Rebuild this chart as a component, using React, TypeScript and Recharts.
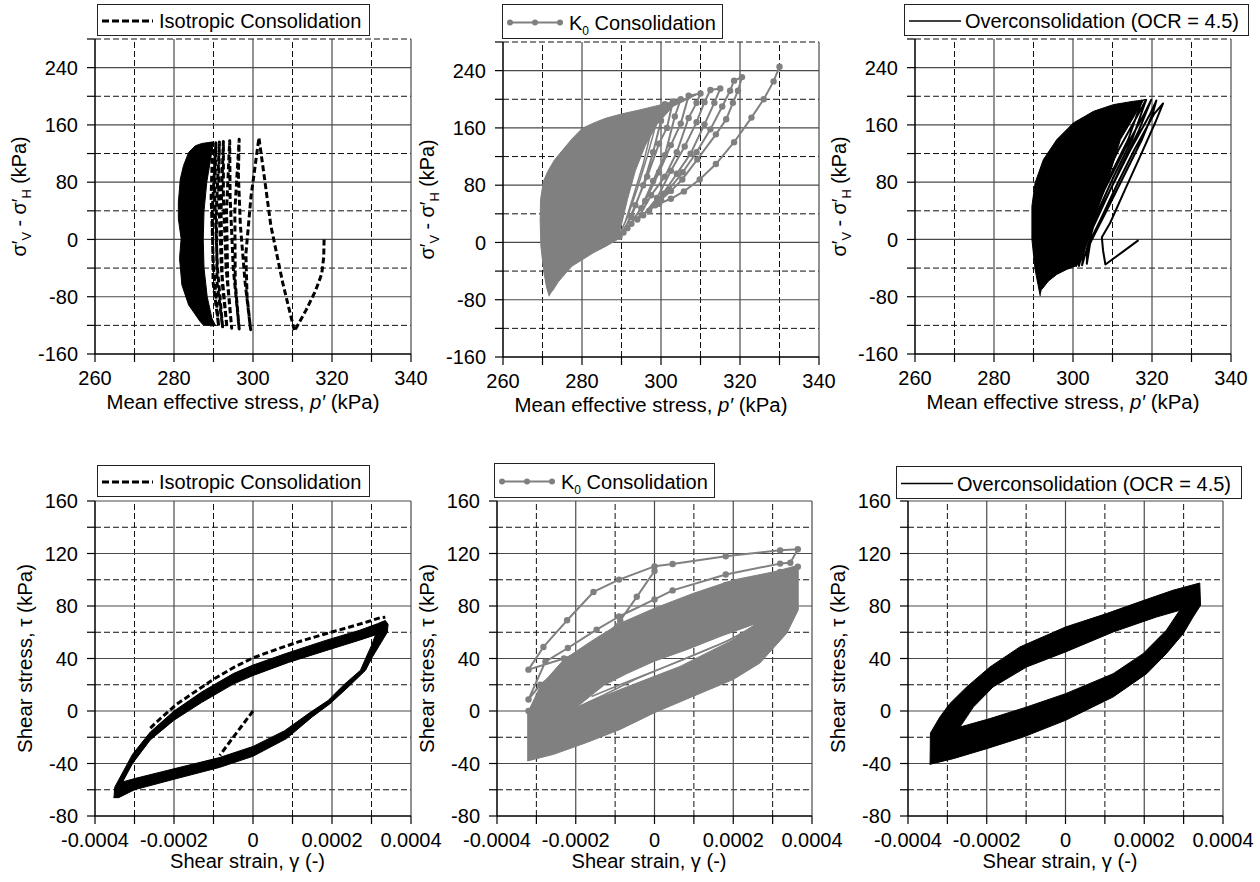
import React from 'react';
import { ScatterChart, Scatter, XAxis, YAxis, ReferenceLine, Legend } from 'recharts';

const FONT = "'Liberation Sans', Arial, Helvetica, sans-serif";
const BLACK = '#000000';
const GRAY = '#808080';

type Pt = [number, number];

// ---------- ticks & gridlines ----------
const pTicks = [260, 270, 280, 290, 300, 310, 320, 330, 340];
const qTicks = [-160, -120, -80, -40, 0, 40, 80, 120, 160, 200, 240, 280];
const strainTicksE4 = [-4, -3, -2, -1, 0, 1, 2, 3, 4];
const tauTicks = [-80, -60, -40, -20, 0, 20, 40, 60, 80, 100, 120, 140, 160];

const pGridSolid = [280, 300, 320, 340];
const pGridDashed = [270, 290, 310, 330];
const qGridSolid = [-80, 0, 80, 160, 240];
const qGridDashed = [-120, -40, 40, 120, 200, 280];
const strainGridSolidE4 = [-2, 0, 2, 4];
const strainGridDashedE4 = [-3, -1, 1, 3];
const tauGridSolid = [-40, 0, 40, 80, 120, 160];
const tauGridDashed = [-60, -20, 20, 60, 100, 140];

// ---------- legend labels ----------
const legendIso = 'Isotropic Consolidation';
const legendK0 = ' Consolidation';
const legendOcr = 'Overconsolidation (OCR = 4.5)';

// ---------- Panel 1: isotropic, p' - q  (p', q) ----------
const isoPQCore: Pt[] = [
  [287.5, -120], [286.6, -114.5], [283.7, -91.4], [282.0, -63.6], [281.4, -26.6], [281.8, 1.2],
  [281.1, 29], [281.1, 52], [281.6, 84.5], [282.4, 103], [283.7, 121.6], [285.4, 130.8],
  [287.0, 134], [290.0, 136.4], [289.5, 120], [288.3, 80], [287.6, 40], [287.4, 0],
  [287.6, -40], [288.4, -80], [289.6, -110], [290.5, -120], [289.2, -121],
];
const isoPQPath: Pt[] = [
  [318.0, 0], [317.9, -25], [317.4, -48], [315.8, -72], [313.5, -98], [310.5, -128],
  [307.5, -60], [304.5, 20], [302.8, 90], [301.5, 142],
  [299.5, 60], [298.2, -20], [298.5, -80], [299.4, -126],
  [298.0, -60], [296.8, 20], [296.3, 90], [296.5, 140],
  [295.4, 40], [295.5, -60], [296.5, -125],
  [295.0, -40], [294.2, 60], [294.1, 138],
  [293.3, 40], [293.6, -60], [294.6, -124],
  [293.2, -40], [292.5, 60], [292.5, 137],
  [291.9, 40], [292.2, -60], [293.4, -123],
  [292.0, -40], [291.3, 60], [291.5, 136],
  [290.7, 40], [290.9, -60], [292.3, -122],
  [291.0, -40], [290.3, 60], [290.6, 135],
  [289.7, 40], [289.9, -60], [291.3, -121],
  [290.0, -40], [289.4, 60], [289.8, 134.5],
];

// ---------- Panel 2: K0, p' - q ----------
const k0PQCore: Pt[] = [
  [271.7, -75.3], [271.0, -62], [270.3, -40], [269.6, -5.5], [269.4, 30], [269.5, 59.6],
  [270.2, 85], [271.3, 99], [273.0, 115], [275.1, 129], [277.5, 145], [280.1, 159.6],
  [283.0, 167], [286.0, 173.5], [290.0, 179.5], [294.5, 185], [299.0, 191], [303.0, 196.8],
  [306.0, 201], [308.9, 206], [303.0, 190], [299.0, 165], [296.0, 135], [293.5, 100],
  [291.5, 60], [290.0, 25], [289.0, 4], [286.0, -5.5], [283.0, -14], [280.1, -24],
  [277.5, -33], [275.9, -42.7], [274.0, -55], [272.5, -68],
];
// zig-zag of successive cycles: down one curve, up the next
const k0PQLoops: Pt[] = [
  // C1 (top -> bottom)
  [330, 245.5], [328.5, 225], [326, 200], [322.9, 174.4], [318.5, 140], [313.9, 109.5],
  [309.8, 88], [305.8, 71.3], [302.5, 61], [299.5, 54],
  // C2 (bottom -> top)
  [300, 60], [302.5, 72], [305.4, 88], [309.2, 116], [313.9, 151], [316.5, 172], [318.2, 195],
  [319.5, 212], [320.5, 231],
  // C3 (top -> bottom)
  [318.5, 226], [317.5, 212], [315.5, 190], [312.5, 158], [309, 126], [305.5, 98], [302, 74], [298.5, 52],
  // C4
  [297, 44], [300.5, 68], [304, 96], [307.5, 124], [311, 165], [313.5, 195], [315, 215],
  // C5
  [312.5, 213], [311, 196], [309, 168], [306, 134], [302.5, 100], [299, 62], [295.5, 38],
  // C6
  [294, 32], [297.5, 66], [301, 92], [304, 126], [307, 174], [309, 195], [310, 208],
  // C7
  [307, 205], [305, 166], [302.5, 136], [299.5, 98], [296, 58], [292.5, 26],
  // C8
  [291.5, 20], [295, 48], [298, 86], [301, 122], [303.5, 176], [305, 200],
  // C9
  [303, 197], [301.5, 160], [299.5, 138], [296.5, 92], [293.5, 52], [290.5, 14],
  // C10
  [289.5, 8], [292.5, 36], [295.5, 80], [298, 126], [300, 170], [301, 193],
];
const k0PQHatch: Pt[] = [
  [300, 190], [298.5, 160], [296.5, 120], [294, 75], [291.5, 35], [289, 5],
  [291, 30], [293, 65], [295.5, 110], [297.5, 155], [299, 189],
];

// ---------- Panel 3: OCR 4.5, p' - q ----------
const ocrPQCore: Pt[] = [
  [291.7, -79], [290.4, -42], [289.6, 0], [289.6, 46.5], [290.4, 79], [292.5, 111.6],
  [295.9, 139.5], [300.1, 162.8], [305.2, 179], [310.3, 188.4], [315.3, 193], [318.7, 195.3],
  [317.9, 195], [314.5, 162.8], [312.0, 139.5], [309.4, 93], [306.5, 46.5], [303.9, 0],
  [302.2, -27.9], [301.0, -36.3], [298.4, -41.9], [295.9, -48.8], [293.8, -58], [292.1, -69.8],
];
const ocrPQLoops: Pt[] = [
  [316.6, -1], [312.4, -18], [308.2, -35],
  [307.6, -15], [307.3, 3], [309.4, 23], [313.2, 70], [317, 116], [320.8, 163], [322.8, 190],
  [320.5, 175], [315.5, 125], [311, 75], [307, 28], [304.5, 0], [303.5, -34],
  [303.6, -15], [304.8, 0], [308.5, 40], [313, 90], [317.5, 140], [320.3, 178], [321.1, 194],
  [319.5, 175], [314.5, 125], [309.5, 70], [305.5, 25], [302.3, -36],
  [302.8, -10], [307, 40], [312, 100], [316.5, 150], [319.8, 195],
  [318, 175], [313, 125], [308, 70], [304, 20], [301.5, -37],
  [302, -15], [305.5, 30], [310.5, 90], [315, 140], [318.5, 195],
  [316.5, 175], [311.5, 125], [306.5, 70], [302.5, 15], [300.8, -37],
  [301.5, -10], [304.5, 30], [309.5, 90], [314, 140], [317.5, 195],
];

// ---------- Panel 4: isotropic, shear (strain x1e-4, tau) ----------
const isoShearOuter: Pt[] = [
  [-3.52, -66], [-3.5, -58], [-3.05, -33], [-2.6, -16], [-2.0, 0], [-1.3, 14.5], [-0.5, 28.5],
  [0, 35], [0.85, 44], [1.86, 54], [2.7, 61.5], [3.15, 66.5], [3.35, 69], [3.42, 66],
  [3.4, 60], [3.2, 50], [3.0, 40], [2.85, 31], [2.4, 18], [1.95, 5.5], [1.5, -4.5],
  [0.85, -21], [0, -34.5], [-0.85, -43], [-2.0, -52], [-3.0, -60], [-3.4, -66],
];
const isoShearInner: Pt[] = [
  [-3.3, -54], [-3.0, -51.5], [-2.0, -44], [-0.85, -35.5], [0, -27], [0.8, -15], [1.45, -1],
  [1.9, 8], [2.3, 20], [2.72, 31], [2.85, 40], [3.0, 50], [3.1, 58],
  [2.7, 54], [1.9, 46.5], [0.9, 37], [0, 27], [-0.5, 20.5], [-1.3, 6.5], [-2.0, -7],
  [-2.6, -22], [-3.05, -40],
];
const isoShearFirstLoad: Pt[] = [
  [-2.6, -13], [-2.3, -4.5], [-1.94, 5], [-1.5, 14], [-1.01, 24], [-0.5, 33], [0, 40.5],
  [0.6, 47], [1.18, 53], [1.8, 58.5], [2.45, 64], [2.9, 68], [3.21, 71], [3.35, 71.5],
];
const isoShearStart: Pt[] = [[0, 0], [-0.3, -12], [-0.6, -24], [-0.84, -33.8]];

// ---------- Panel 5: K0, shear ----------
const k0ShearOuter: Pt[] = [
  [-3.22, -38], [-3.22, -1.3], [-2.9, 18.9], [-2.31, 39], [-1.55, 54.3], [-0.87, 66.9],
  [0, 78.3], [0.99, 89.7], [2.0, 99.8], [3.02, 106], [3.65, 111], [3.65, 77], [3.36, 59.3],
  [2.68, 36.6], [2.0, 24], [0.99, 11.3], [0, -1.3], [-0.87, -14], [-1.72, -24], [-2.56, -33],
];
const k0ShearInner: Pt[] = [
  [-2.1, 0], [-1.72, 6.2], [-0.87, 16.4], [0, 26.5], [0.65, 34], [1.33, 44.2], [2.0, 54.3],
  [2.6, 66.9], [1.67, 56.8], [0.82, 46.7], [0, 38], [-0.7, 28.5], [-1.29, 19.5],
];
const k0ShearHoleA: Pt[] = [[-2.1, 1], [-1.3, 12], [-0.5, 24], [0.3, 34], [1.1, 44], [1.9, 54], [2.6, 66]];
const k0ShearHoleB: Pt[] = [[-1.6, 11], [-0.8, 21], [0, 30.5], [0.8, 40], [1.6, 50], [2.3, 60]];
const k0ShearLoops: Pt[] = [
  [0, 106.7], [-0.45, 87], [-0.87, 69], [-1.46, 49], [-2.3, 40], [-3.2, 31.5],
  [-2.82, 48.8], [-2.22, 69.1], [-1.55, 90.7], [-0.9, 100.1], [0, 110.2], [0.46, 112],
  [1.81, 117.9], [3.19, 122.4], [3.64, 123.2],
  [3.45, 113], [3.19, 112.3], [1.81, 104], [0.46, 91.9], [0, 85], [-0.9, 72], [-1.47, 62],
  [-2.2, 48], [-2.77, 37.6], [-3.2, 8.8],
  [-2.9, 20], [-2.4, 32], [-1.8, 44], [-1.0, 58], [0, 73], [1.0, 86], [1.81, 96],
  [3.19, 106], [3.64, 110],
  [3.4, 102], [3.19, 101], [1.81, 91], [0.5, 78], [-0.5, 63], [-1.5, 46], [-2.5, 28], [-3.2, 0],
];

// ---------- Panel 6: OCR 4.5, shear ----------
const ocrShearOuter: Pt[] = [
  [-3.44, -40.6], [-3.43, -16.8], [-3.19, -4.6], [-2.94, 5.6], [-2.51, 18.3], [-1.92, 33.5],
  [-1.16, 48.8], [0, 64], [1.04, 74.2], [1.99, 84.3], [2.73, 92], [3.41, 97.5], [3.43, 80.5],
  [3.24, 71.6], [2.99, 58.9], [2.56, 43.7], [2.06, 28.4], [1.21, 10.7], [0, -7.1],
  [-1.07, -19.8], [-2.0, -28.7], [-2.85, -36.3],
];
const ocrShearInner: Pt[] = [
  [-2.68, -12.2], [-1.92, -5.8], [-0.99, 3], [0, 13.2], [1.21, 28.4], [1.97, 43.7],
  [2.56, 61.5], [2.9, 76.7], [2.31, 71.6], [1.21, 60.2], [0, 45], [-0.99, 33.5],
  [-1.84, 18.3], [-2.34, 3],
];

// ---------- helpers ----------
const toPQ = (a: Pt[]) => a.map(([x, y]) => ({ x, y }));
const toStrain = (a: Pt[]) => a.map(([g, y]) => ({ x: g / 1e4, y }));
const ring = (outer: Pt[], inner: Pt[]): Pt[] => [...outer, outer[0], ...inner, inner[0], outer[0]];

const NoDot = () => <g />;
const GrayDot = (p: any) => <circle cx={p.cx} cy={p.cy} r={3.2} fill={GRAY} />;

const qFmt = (v: number) => (v % 80 === 0 && v !== 280 ? String(v) : '');
const pFmt = (v: number) => (v % 20 === 0 ? String(v) : '');
const tauFmt = (v: number) => (v % 40 === 0 ? String(v) : '');
const strainFmt = (v: number) => {
  const r = Math.round(v * 1e4);
  if (r % 2 !== 0) return '';
  return r === 0 ? '0' : (r / 1e4).toFixed(4);
};
const e4 = (a: number[]) => a.map((v) => v / 1e4);

// ---------- legend ----------
type LegendKind = 'dashed' | 'dots' | 'solid';
function LegendBox({ w, h, kind, children }: { w: number; h: number; kind: LegendKind; children: React.ReactNode }) {
  const my = h / 2;
  let sample: React.ReactNode = null;
  let tx = 60;
  if (kind === 'dashed') {
    sample = <line x1={4} x2={55} y1={my} y2={my} stroke={BLACK} strokeWidth={3} strokeDasharray="7 3" />;
    tx = 61;
  } else if (kind === 'dots') {
    sample = (
      <g>
        <line x1={5} x2={60} y1={my} y2={my} stroke={GRAY} strokeWidth={2} />
        <circle cx={7} cy={my} r={3} fill={GRAY} />
        <circle cx={32} cy={my} r={3} fill={GRAY} />
        <circle cx={57} cy={my} r={3} fill={GRAY} />
      </g>
    );
    tx = 66;
  } else {
    sample = <line x1={4} x2={56} y1={my} y2={my} stroke={BLACK} strokeWidth={1.6} />;
    tx = 60;
  }
  return (
    <div
      style={{
        boxSizing: 'border-box', width: w, height: h, border: '1px solid #222', background: '#fff',
        position: 'relative', fontFamily: FONT, fontSize: 20, color: '#000',
      }}
    >
      <svg style={{ position: 'absolute', left: 0, top: 0 }} width={w} height={h}>{sample}</svg>
      <span style={{ position: 'absolute', left: tx, top: h / 2 - 11, whiteSpace: 'nowrap', lineHeight: '22px' }}>{children}</span>
    </div>
  );
}

// ---------- panel ----------
interface PanelProps {
  left: number; top: number; plotW: number; plotH: number;
  xDomain: [number, number]; xTicks: number[]; xFmt: (v: number) => string;
  yDomain: [number, number]; yTicks: number[]; yFmt: (v: number) => string;
  xSolid: number[]; xDashed: number[]; ySolid: number[]; yDashed: number[];
  legend: React.ReactNode; lx: number; ly: number; lw: number; lh: number;
  xTitle: React.ReactNode; yTitle: React.ReactNode;
  xTitleShift: number; xTitleDy: number; yTitleX: number; xTitleLen: number; yTitleLen: number;
  children: React.ReactNode;
}

const RIGHT = 48;

function Panel(p: PanelProps) {
  const W = 95 + p.plotW + RIGHT;
  const H = 45 + p.plotH + 70;
  const cy = 45 + p.plotH / 2;
  const xTitleFn = () => (
    <text x={95 + p.plotW / 2 + p.xTitleShift} y={45 + p.plotH + p.xTitleDy} textAnchor="middle"
      fontSize={20} fontFamily={FONT} fill="#000" textLength={p.xTitleLen} lengthAdjust="spacingAndGlyphs">{p.xTitle}</text>
  );
  const yTitleFn = () => (
    <text x={p.yTitleX} y={cy} transform={`rotate(-90 ${p.yTitleX} ${cy})`} textAnchor="middle"
      fontSize={20} fontFamily={FONT} fill="#000" textLength={p.yTitleLen} lengthAdjust="spacingAndGlyphs">{p.yTitle}</text>
  );
  return (
    <div style={{ position: 'absolute', left: p.left - 95, top: p.top - 45, width: W, height: H }}>
      <ScatterChart width={W} height={H} margin={{ top: 45, right: RIGHT, bottom: 0, left: 0 }}>
        {p.xDashed.map((v) => (
          <ReferenceLine key={'xd' + v} x={v} stroke="#111" strokeWidth={1} strokeDasharray="6 3" />
        ))}
        {p.yDashed.map((v) => (
          <ReferenceLine key={'yd' + v} y={v} stroke="#111" strokeWidth={1} strokeDasharray="6 3" />
        ))}
        {p.xSolid.map((v) => (
          <ReferenceLine key={'xs' + v} x={v} stroke="#4a4a4a" strokeWidth={1.2} />
        ))}
        {p.ySolid.map((v) => (
          <ReferenceLine key={'ys' + v} y={v} stroke="#4a4a4a" strokeWidth={1.2} />
        ))}
        {p.children}
        <XAxis type="number" dataKey="x" domain={p.xDomain} ticks={p.xTicks} tickFormatter={p.xFmt}
          allowDataOverflow interval={0} height={70} tickSize={8} tickMargin={9} stroke="#000"
          axisLine={{ stroke: '#000', strokeWidth: 1.5 }} tickLine={{ stroke: '#000', strokeWidth: 1.2 }}
          tick={{ fontSize: 20, fill: '#000', fontFamily: FONT }} label={xTitleFn} />
        <YAxis type="number" dataKey="y" domain={p.yDomain} ticks={p.yTicks} tickFormatter={p.yFmt}
          allowDataOverflow interval={0} width={95} tickSize={8} tickMargin={9} stroke="#000"
          axisLine={{ stroke: '#000', strokeWidth: 1.5 }} tickLine={{ stroke: '#000', strokeWidth: 1.2 }}
          tick={{ fontSize: 20, fill: '#000', fontFamily: FONT }} label={yTitleFn} />
        <Legend verticalAlign="middle" align="center" layout="horizontal"
          wrapperStyle={{ left: p.lx, top: p.ly, width: p.lw, height: p.lh }}
          content={() => p.legend} />
      </ScatterChart>
    </div>
  );
}

const qTitle = (
  <>
    <tspan>σ′</tspan><tspan dy={5} fontSize={13}>V</tspan><tspan dy={-5}> - σ′</tspan>
    <tspan dy={5} fontSize={13}>H</tspan><tspan dy={-5}> (kPa)</tspan>
  </>
);
const pTitle = (<><tspan>Mean effective stress, </tspan><tspan fontStyle="italic">p′</tspan><tspan> (kPa)</tspan></>);
const strainTitle = 'Shear strain, γ (-)';
const tauTitle = 'Shear stress, τ (kPa)';

const topCommon = {
  xDomain: [260, 340] as [number, number], xTicks: pTicks, xFmt: pFmt,
  yDomain: [-160, 280] as [number, number], yTicks: qTicks, yFmt: qFmt,
  xSolid: pGridSolid, xDashed: pGridDashed, ySolid: qGridSolid, yDashed: qGridDashed,
  xTitle: pTitle, yTitle: qTitle, xTitleShift: -10, xTitleDy: 55, yTitleX: 26,
  xTitleLen: 273, yTitleLen: 120,
};
const botCommon = {
  xDomain: [-0.0004, 0.0004] as [number, number], xTicks: e4(strainTicksE4), xFmt: strainFmt,
  yDomain: [-80, 160] as [number, number], yTicks: tauTicks, yFmt: tauFmt,
  xSolid: e4(strainGridSolidE4), xDashed: e4(strainGridDashedE4), ySolid: tauGridSolid, yDashed: tauGridDashed,
  xTitle: strainTitle, yTitle: tauTitle, xTitleShift: -5.5, xTitleDy: 52, yTitleX: 32,
  xTitleLen: 155, yTitleLen: 189,
};

const lineNone = (stroke: string, w: number, dash?: string) =>
  dash ? { stroke, strokeWidth: w, strokeDasharray: dash, fill: 'none', strokeLinejoin: 'round' as const }
    : { stroke, strokeWidth: w, fill: 'none', strokeLinejoin: 'round' as const };
const lineFill = (c: string) => ({ stroke: c, strokeWidth: 1, fill: c, strokeLinejoin: 'round' as const });

export default function App() {
  return (
    <div style={{ position: 'absolute', left: 0, top: 0, width: 1260, height: 882, background: '#fff', fontFamily: FONT, overflow: 'hidden' }}>
      {/* Panel 1 */}
      <Panel {...topCommon} left={95} top={39} plotW={316} plotH={315}
        lx={97} ly={10} lw={273} lh={32}
        legend={<LegendBox w={273} h={32} kind="dashed">{legendIso}</LegendBox>}>
        <Scatter data={toPQ(isoPQCore)} line={lineFill(BLACK)} shape={NoDot} isAnimationActive={false} legendType="none" />
        <Scatter data={toPQ(isoPQPath)} line={lineNone(BLACK, 3, '6 3')} shape={NoDot} isAnimationActive={false} legendType="none" />
      </Panel>
      {/* Panel 2 */}
      <Panel {...topCommon} left={503} top={42} plotW={316} plotH={315}
        lx={94} ly={7} lw={221} lh={35}
        legend={<LegendBox w={221} h={35} kind="dots">K<sub style={{ fontSize: 12 }}>0</sub>{legendK0}</LegendBox>}>
        <Scatter data={toPQ(k0PQCore)} line={lineFill(GRAY)} shape={NoDot} isAnimationActive={false} legendType="none" />
        <Scatter data={toPQ(k0PQHatch)} line={lineNone(GRAY, 1.5)} shape={NoDot} isAnimationActive={false} legendType="none" />
        <Scatter data={toPQ(k0PQLoops)} line={lineNone(GRAY, 2)} shape={GrayDot} isAnimationActive={false} legendType="none" />
      </Panel>
      {/* Panel 3 */}
      <Panel {...topCommon} left={915} top={39} plotW={316} plotH={315}
        lx={84} ly={10} lw={345} lh={32}
        legend={<LegendBox w={345} h={32} kind="solid">{legendOcr}</LegendBox>}>
        <Scatter data={toPQ(ocrPQCore)} line={lineFill(BLACK)} shape={NoDot} isAnimationActive={false} legendType="none" />
        <Scatter data={toPQ(ocrPQLoops)} line={lineNone(BLACK, 2)} shape={NoDot} isAnimationActive={false} legendType="none" />
      </Panel>
      {/* Panel 4 */}
      <Panel {...botCommon} left={95} top={501} plotW={316} plotH={315}
        lx={97} ly={9} lw={273} lh={32}
        legend={<LegendBox w={273} h={32} kind="dashed">{legendIso}</LegendBox>}>
        <Scatter data={toStrain(ring(isoShearOuter, isoShearInner))} line={lineFill(BLACK)} shape={NoDot} isAnimationActive={false} legendType="none" />
        <Scatter data={toStrain(isoShearFirstLoad)} line={lineNone(BLACK, 3, '6 3')} shape={NoDot} isAnimationActive={false} legendType="none" />
        <Scatter data={toStrain(isoShearStart)} line={lineNone(BLACK, 3, '6 3')} shape={NoDot} isAnimationActive={false} legendType="none" />
      </Panel>
      {/* Panel 5 */}
      <Panel {...botCommon} left={497} top={501} plotW={315} plotH={315}
        lx={92} ly={7} lw={221} lh={35}
        legend={<LegendBox w={221} h={35} kind="dots">K<sub style={{ fontSize: 12 }}>0</sub>{legendK0}</LegendBox>}>
        <Scatter data={toStrain(ring(k0ShearOuter, k0ShearInner))} line={lineFill(GRAY)} shape={NoDot} isAnimationActive={false} legendType="none" />
        <Scatter data={toStrain(k0ShearHoleA)} line={lineNone(GRAY, 1.5)} shape={NoDot} isAnimationActive={false} legendType="none" />
        <Scatter data={toStrain(k0ShearHoleB)} line={lineNone(GRAY, 1.5)} shape={NoDot} isAnimationActive={false} legendType="none" />
        <Scatter data={toStrain(k0ShearLoops)} line={lineNone(GRAY, 2)} shape={GrayDot} isAnimationActive={false} legendType="none" />
      </Panel>
      {/* Panel 6 */}
      <Panel {...botCommon} left={908} top={501} plotW={315} plotH={315}
        lx={83} ly={10} lw={346} lh={33}
        legend={<LegendBox w={346} h={33} kind="solid">{legendOcr}</LegendBox>}>
        <Scatter data={toStrain(ring(ocrShearOuter, ocrShearInner))} line={lineFill(BLACK)} shape={NoDot} isAnimationActive={false} legendType="none" />
      </Panel>
    </div>
  );
}
